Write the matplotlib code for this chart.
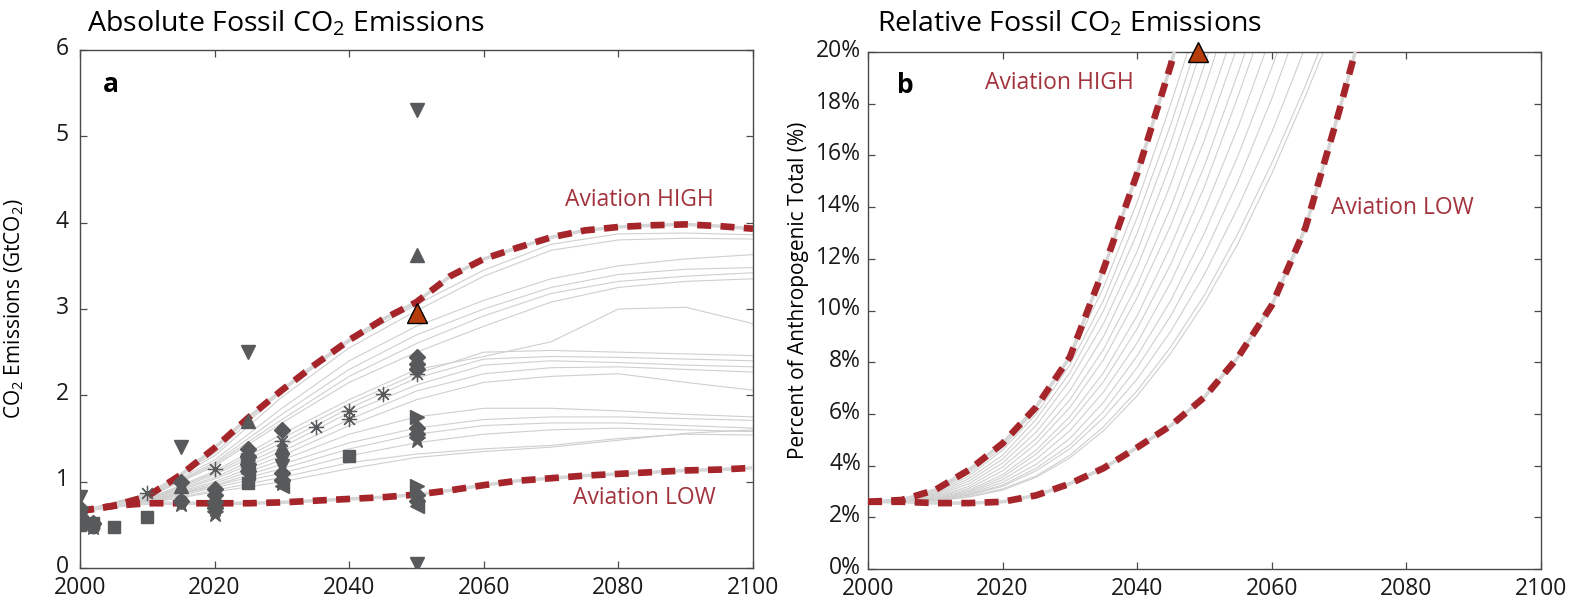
import matplotlib
matplotlib.use('Agg')
import matplotlib.pyplot as plt
import matplotlib.transforms as mtrans

plt.rcParams['font.family'] = ['Open Sans', 'DejaVu Sans']
plt.rcParams['mathtext.fontset'] = 'custom'
plt.rcParams['mathtext.rm'] = 'Open Sans'
plt.rcParams['mathtext.default'] = 'regular'

# ---- data: absolute emissions (GtCO2) ----
yrs5 = list(range(2000, 2101, 5))
yrs10 = list(range(2000, 2101, 10))
high_abs = [0.66, 0.72, 0.83, 1.08, 1.39, 1.74, 2.06, 2.36, 2.64, 2.88, 3.08,
            3.38, 3.58, 3.71, 3.83, 3.91, 3.95, 3.97, 3.98, 3.96, 3.93]
low_abs = [0.66, 0.72, 0.75, 0.75, 0.75, 0.75, 0.76, 0.78, 0.80, 0.82, 0.85,
           0.90, 0.96, 1.01, 1.04, 1.07, 1.09, 1.11, 1.13, 1.14, 1.16]

scen_abs = [
    [0.66, 0.86, 1.33, 2.05, 2.62, 3.05, 3.45, 3.75, 3.87, 3.88, 3.86],
    [0.66, 0.85, 1.30, 1.98, 2.55, 2.98, 3.38, 3.68, 3.80, 3.82, 3.81],
    [0.66, 0.84, 1.25, 1.85, 2.40, 2.80, 3.10, 3.35, 3.50, 3.58, 3.63],
    [0.66, 0.83, 1.22, 1.78, 2.30, 2.70, 3.00, 3.25, 3.40, 3.46, 3.48],
    [0.66, 0.82, 1.20, 1.72, 2.22, 2.60, 2.92, 3.18, 3.32, 3.38, 3.42],
    [0.66, 0.82, 1.18, 1.68, 2.15, 2.50, 2.80, 3.08, 3.25, 3.32, 3.35],
    [0.66, 0.80, 1.12, 1.55, 1.95, 2.30, 2.45, 2.62, 3.00, 3.02, 2.83],
    [0.66, 0.80, 1.10, 1.50, 1.90, 2.25, 2.50, 2.52, 2.50, 2.48, 2.46],
    [0.66, 0.79, 1.08, 1.45, 1.85, 2.20, 2.42, 2.45, 2.44, 2.42, 2.40],
    [0.66, 0.79, 1.05, 1.40, 1.80, 2.12, 2.35, 2.40, 2.38, 2.35, 2.33],
    [0.66, 0.78, 1.03, 1.35, 1.72, 2.05, 2.25, 2.32, 2.33, 2.30, 2.27],
    [0.66, 0.78, 1.00, 1.30, 1.65, 1.95, 2.15, 2.22, 2.25, 2.15, 2.06],
    [0.66, 0.77, 0.98, 1.25, 1.55, 1.75, 1.85, 1.85, 1.82, 1.78, 1.75],
    [0.66, 0.77, 0.96, 1.20, 1.45, 1.62, 1.72, 1.75, 1.75, 1.73, 1.71],
    [0.66, 0.76, 0.95, 1.15, 1.38, 1.55, 1.65, 1.68, 1.68, 1.65, 1.62],
    [0.66, 0.76, 0.93, 1.10, 1.30, 1.45, 1.55, 1.60, 1.62, 1.60, 1.58],
    [0.66, 0.75, 0.90, 1.05, 1.22, 1.32, 1.38, 1.42, 1.50, 1.55, 1.54],
    [0.66, 0.75, 0.88, 1.00, 1.15, 1.28, 1.35, 1.40, 1.48, 1.56, 1.60],
]

# literature estimates (markers)
tdown_x = [2000, 2015, 2025, 2030, 2030, 2050, 2050]
tdown_y = [0.82, 1.40, 2.50, 1.25, 1.18, 5.30, 0.05]
tup_x = [2000, 2015, 2025, 2030, 2050]
tup_y = [0.72, 0.95, 1.70, 1.40, 3.62]
diam_x = [2000, 2000, 2002, 2015, 2015, 2020, 2020, 2020, 2020, 2025, 2025, 2025,
          2025, 2030, 2030, 2030, 2050, 2050, 2050, 2050, 2050, 2050, 2050]
diam_y = [0.70, 0.60, 0.52, 1.00, 0.78, 0.92, 0.85, 0.77, 0.70, 1.38, 1.30, 1.20,
          1.12, 1.60, 1.10, 1.02, 2.44, 2.36, 2.30, 1.62, 1.55, 0.85, 0.78]
sq_x = [2000, 2002, 2005, 2010, 2025, 2040]
sq_y = [0.50, 0.52, 0.48, 0.59, 0.98, 1.30]
circ_x = [2000, 2002, 2015, 2025]
circ_y = [0.55, 0.48, 0.78, 1.15]
star_x = [2000, 2002, 2015, 2020, 2020, 2025, 2030, 2050]
star_y = [0.52, 0.48, 0.74, 0.62, 0.68, 1.25, 0.98, 1.48]
ast_x = [2010, 2020, 2030, 2035, 2040, 2040, 2045, 2050]
ast_y = [0.87, 1.15, 1.47, 1.63, 1.82, 1.73, 2.02, 2.25]
tright_x = [2025, 2050, 2050]
tright_y = [1.25, 1.75, 0.95]
tleft_x = [2025, 2030, 2050]
tleft_y = [1.10, 0.95, 0.72]
this_abs = (2050, 2.95)

# ---- data: relative emissions (% of anthropogenic total) ----
high_rel_x = [2000, 2005, 2010, 2015, 2020, 2025, 2030, 2035, 2040, 2045, 2047]
high_rel = [2.6, 2.67, 3.06, 3.83, 4.86, 6.27, 8.2, 11.6, 15.3, 19.5, 21.5]
low_rel_x = list(range(2000, 2076, 5))
low_rel = [2.6, 2.6, 2.55, 2.55, 2.6, 2.85, 3.3, 3.9, 4.7, 5.55, 6.65, 8.2,
           10.2, 13.2, 17.7, 22.5]
scen_rel = [
    [2.6, 2.66, 3.0, 3.7, 4.7, 6.2, 8.2, 10.9, 14.2, 18.0, 22.0],
    [2.6, 2.65, 2.95, 3.6, 4.6, 6.0, 7.9, 10.4, 13.6, 17.2, 21.2],
    [2.6, 2.65, 2.9, 3.5, 4.4, 5.8, 7.6, 10.0, 13.0, 16.5, 20.5],
    [2.6, 2.64, 2.86, 3.4, 4.25, 5.55, 7.3, 9.5, 12.3, 15.7, 19.5, 23.5],
    [2.6, 2.63, 2.82, 3.3, 4.1, 5.3, 6.9, 9.0, 11.7, 14.9, 18.6, 22.6],
    [2.6, 2.62, 2.78, 3.2, 3.95, 5.05, 6.55, 8.5, 11.0, 14.0, 17.5, 21.3],
    [2.6, 2.62, 2.75, 3.12, 3.8, 4.85, 6.25, 8.1, 10.5, 13.3, 16.6, 20.3],
    [2.6, 2.61, 2.72, 3.05, 3.65, 4.6, 5.9, 7.6, 9.8, 12.5, 15.6, 19.2, 23.0],
    [2.6, 2.61, 2.7, 3.0, 3.55, 4.45, 5.65, 7.25, 9.3, 11.8, 14.8, 18.3, 22.0],
    [2.6, 2.6, 2.68, 2.95, 3.45, 4.25, 5.35, 6.85, 8.75, 11.1, 13.9, 17.1, 20.7],
    [2.6, 2.6, 2.67, 2.9, 3.35, 4.05, 5.05, 6.45, 8.25, 10.4, 13.0, 16.0, 19.4, 23.0],
    [2.6, 2.6, 2.66, 2.87, 3.25, 3.9, 4.8, 6.1, 7.8, 9.8, 12.2, 15.0, 18.2, 21.8],
    [2.6, 2.6, 2.65, 2.85, 3.2, 3.8, 4.65, 5.85, 7.35, 9.2, 11.4, 14.0, 16.9, 20.2],
    [2.6, 2.6, 2.64, 2.8, 3.1, 3.6, 4.4, 5.5, 6.9, 8.6, 10.6, 13.0, 15.7, 18.7, 22.0],
    [2.6, 2.6, 2.64, 2.78, 3.05, 3.55, 4.3, 5.35, 6.7, 8.35, 10.3, 12.6, 15.3, 18.3, 21.5],
]
this_rel = (2049, 20.0)

xticks = [2000, 2020, 2040, 2060, 2080, 2100]

RED = '#a5252b'
TXTRED = '#a2333d'
GREY_LINE = '#cfcfcf'
MK = '#58595b'

fig = plt.figure(figsize=(15.76, 5.99), dpi=100)
ax1 = fig.add_axes([80/1576, 1-568/599, 673/1576, 518/599])
ax2 = fig.add_axes([868/1576, 1-569/599, 673/1576, 517/599])


def style(ax):
    for s in ax.spines.values():
        s.set_color('#4a4a4a')
        s.set_linewidth(1.0)
    ax.tick_params(direction='in', length=5, width=0.9, color='#4a4a4a',
                   top=True, right=True, labelsize=16.5, labelcolor='#1a1a1a')
    ax.tick_params(axis='x', pad=6)
    ax.set_xlim(2000, 2100)
    ax.set_xticks(xticks)


def lift_yticks(ax):
    # labels sit a little above their ticks in the original
    off = mtrans.ScaledTranslation(0, 3/72, fig.dpi_scale_trans)
    for lab in ax.get_yticklabels():
        lab.set_transform(lab.get_transform() + off)


def dashed(ax, x, y):
    ax.plot(x, y, color='#d6d6d6', lw=2.5, zorder=3)
    ax.plot(x, y, color=RED, lw=4.8, dashes=(2.1, 1.4),
            dash_capstyle='butt', zorder=4)


# ---- panel a ----
style(ax1)
for c in scen_abs:
    ax1.plot(yrs10, c, color=GREY_LINE, lw=0.8, zorder=1)
dashed(ax1, yrs5, high_abs)
dashed(ax1, yrs5, low_abs)

mk = dict(color=MK, ls='none', ms=10, zorder=5)
ax1.plot(tdown_x, tdown_y, marker='v', **mk)
ax1.plot(tup_x, tup_y, marker='^', **mk)
ax1.plot(diam_x, diam_y, marker='D', **dict(mk, ms=8))
ax1.plot(sq_x, sq_y, marker='s', **dict(mk, ms=8))
ax1.plot(circ_x, circ_y, marker='o', **dict(mk, ms=9))
ax1.plot(star_x, star_y, marker='*', **dict(mk, ms=12))
ax1.plot(ast_x, ast_y, marker=(8, 2, 0), mew=0.9, **dict(mk, ms=11))
ax1.plot(tright_x, tright_y, marker='>', **mk)
ax1.plot(tleft_x, tleft_y, marker='<', **mk)
ax1.plot(*this_abs, marker='^', color='#b53d0c', mec='black', mew=1.0,
         ms=14, ls='none', zorder=6)

ax1.set_ylim(0, 6)
ax1.set_yticks([0, 1, 2, 3, 4, 5, 6])
ax1.tick_params(axis='y', pad=8)
lift_yticks(ax1)
ax1.set_ylabel('CO$_2$ Emissions (GtCO$_2$)', fontsize=15)
ax1.yaxis.set_label_coords(-0.08, 0.5)
ax1.text(0.034, 0.919, 'a', transform=ax1.transAxes, fontsize=19,
         fontweight='bold', va='baseline')
ax1.text(2072.1, 4.26, 'Aviation HIGH', color=TXTRED, fontsize=16.5, va='center')
ax1.text(2073.3, 0.81, 'Aviation LOW', color=TXTRED, fontsize=16.5, va='center')

# ---- panel b ----
style(ax2)
for c in scen_rel:
    ax2.plot(low_rel_x[:len(c)], c, color=GREY_LINE, lw=0.8, zorder=1)
dashed(ax2, high_rel_x, high_rel)
dashed(ax2, low_rel_x, low_rel)
ax2.plot(*this_rel, marker='^', color='#b53d0c', mec='black', mew=1.0,
         ms=14, ls='none', zorder=6, clip_on=False)

ax2.set_ylim(0, 20)
ax2.set_yticks(range(0, 21, 2))
ax2.set_yticklabels(['%d%%' % v for v in range(0, 21, 2)])
ax2.tick_params(axis='y', pad=5)
lift_yticks(ax2)
ax2.set_ylabel('Percent of Anthropogenic Total (%)', fontsize=15)
ax2.yaxis.set_label_coords(-0.088, 0.54)
ax2.text(0.043, 0.92, 'b', transform=ax2.transAxes, fontsize=19,
         fontweight='bold', va='baseline')
ax2.text(2017.4, 18.8, 'Aviation HIGH', color=TXTRED, fontsize=16.5, va='center')
ax2.text(2068.8, 13.97, 'Aviation LOW', color=TXTRED, fontsize=16.5, va='center')

fig.text(87/1576, 1-32/599, 'Absolute Fossil CO$_2$ Emissions', fontsize=20.5,
         va='baseline', ha='left')
fig.text(877/1576, 1-32/599, 'Relative Fossil CO$_2$ Emissions', fontsize=20.5,
         va='baseline', ha='left')

fig.savefig('out.png', dpi=100)
